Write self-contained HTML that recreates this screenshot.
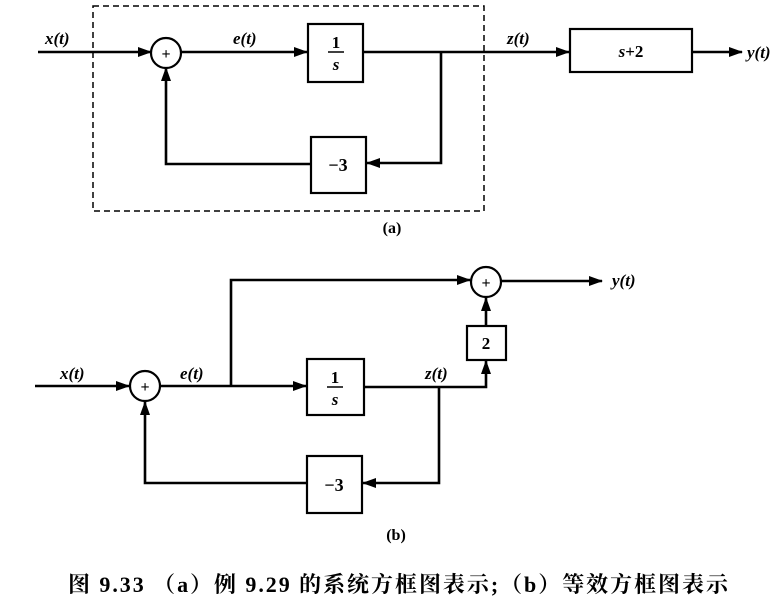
<!DOCTYPE html>
<html><head><meta charset="utf-8"><style>
html,body{margin:0;padding:0;background:#fff;}
svg{display:block;}
text{font-family:"Liberation Serif","Noto Serif CJK SC",serif;fill:#000;}
.it{font-style:italic;font-weight:bold;font-size:17px;}
</style></head><body>
<svg width="774" height="606" viewBox="0 0 774 606" xmlns="http://www.w3.org/2000/svg">
<defs>
<marker id="ar" markerWidth="14" markerHeight="10" refX="13" refY="5" orient="auto" markerUnits="userSpaceOnUse">
<path d="M0,0 L14,5 L0,10 Z" fill="#000"/></marker>
</defs>
<g stroke="#000" stroke-width="2.6" fill="none">
<rect x="93" y="6" width="391" height="205" stroke-width="1.5" stroke-dasharray="6,4"/>
<line x1="38" y1="52" x2="151" y2="52" marker-end="url(#ar)"/>
<circle cx="166" cy="53" r="15" stroke-width="2.2"/>
<line x1="181" y1="52" x2="307" y2="52" marker-end="url(#ar)"/>
<rect x="308" y="24" width="55" height="58" stroke-width="2.2"/>
<line x1="363" y1="52" x2="569" y2="52" marker-end="url(#ar)"/>
<polyline points="441,52 441,163 367,163" marker-end="url(#ar)"/>
<rect x="311" y="137" width="55" height="56" stroke-width="2.2"/>
<polyline points="311,164 166,164 166,68" marker-end="url(#ar)"/>
<rect x="570" y="29" width="122" height="43" stroke-width="2.2"/>
<line x1="692" y1="52" x2="742" y2="52" marker-end="url(#ar)"/>
<line x1="35" y1="386" x2="129" y2="386" marker-end="url(#ar)"/>
<circle cx="145" cy="386" r="15" stroke-width="2.2"/>
<line x1="160" y1="386" x2="306" y2="386" marker-end="url(#ar)"/>
<polyline points="231,386 231,280 470,280" marker-end="url(#ar)"/>
<circle cx="486" cy="282" r="15" stroke-width="2.2"/>
<line x1="501" y1="281" x2="602" y2="281" marker-end="url(#ar)"/>
<rect x="307" y="359" width="57" height="56" stroke-width="2.2"/>
<polyline points="364,387 486,387 486,361" marker-end="url(#ar)"/>
<rect x="467" y="326" width="39" height="34" stroke-width="2.2"/>
<line x1="486" y1="326" x2="486" y2="298" marker-end="url(#ar)"/>
<polyline points="439,387 439,483 363,483" marker-end="url(#ar)"/>
<rect x="307" y="456" width="55" height="57" stroke-width="2.2"/>
<polyline points="307,483 145,483 145,402" marker-end="url(#ar)"/>
</g>
<g font-size="16" font-weight="bold" text-anchor="middle">
<text x="166" y="59">+</text>
<text x="145" y="392">+</text>
<text x="486" y="288">+</text>
</g>
<text class="it" x="45" y="44">x(t)</text>
<text class="it" x="233" y="44">e(t)</text>
<text class="it" x="507" y="44">z(t)</text>
<text class="it" x="747" y="58">y(t)</text>
<text x="336" y="48" font-size="17" font-weight="bold" text-anchor="middle">1</text>
<line x1="328" y1="52" x2="344" y2="52" stroke="#000" stroke-width="1.5"/>
<text x="336" y="70" font-size="17" font-style="italic" font-weight="bold" text-anchor="middle">s</text>
<text x="338" y="171" font-size="18" font-weight="bold" text-anchor="middle">−3</text>
<text x="631" y="57" font-size="17" font-weight="bold" text-anchor="middle"><tspan font-style="italic">s</tspan>+2</text>
<text x="392" y="233" font-size="16" font-weight="bold" text-anchor="middle">(a)</text>
<text class="it" x="60" y="379">x(t)</text>
<text class="it" x="180" y="379">e(t)</text>
<text class="it" x="425" y="379">z(t)</text>
<text class="it" x="612" y="286">y(t)</text>
<text x="335" y="383" font-size="17" font-weight="bold" text-anchor="middle">1</text>
<line x1="327" y1="387" x2="343" y2="387" stroke="#000" stroke-width="1.5"/>
<text x="335" y="405" font-size="17" font-style="italic" font-weight="bold" text-anchor="middle">s</text>
<text x="334" y="491" font-size="18" font-weight="bold" text-anchor="middle">−3</text>
<text x="486" y="349" font-size="17" font-weight="bold" text-anchor="middle">2</text>
<text x="396" y="540" font-size="16" font-weight="bold" text-anchor="middle">(b)</text>
<text x="68" y="592" font-size="22" font-weight="bold" textLength="660" lengthAdjust="spacing">图 9.33 （a）例 9.29 的系统方框图表示;（b）等效方框图表示</text>
</svg>
</body></html>
